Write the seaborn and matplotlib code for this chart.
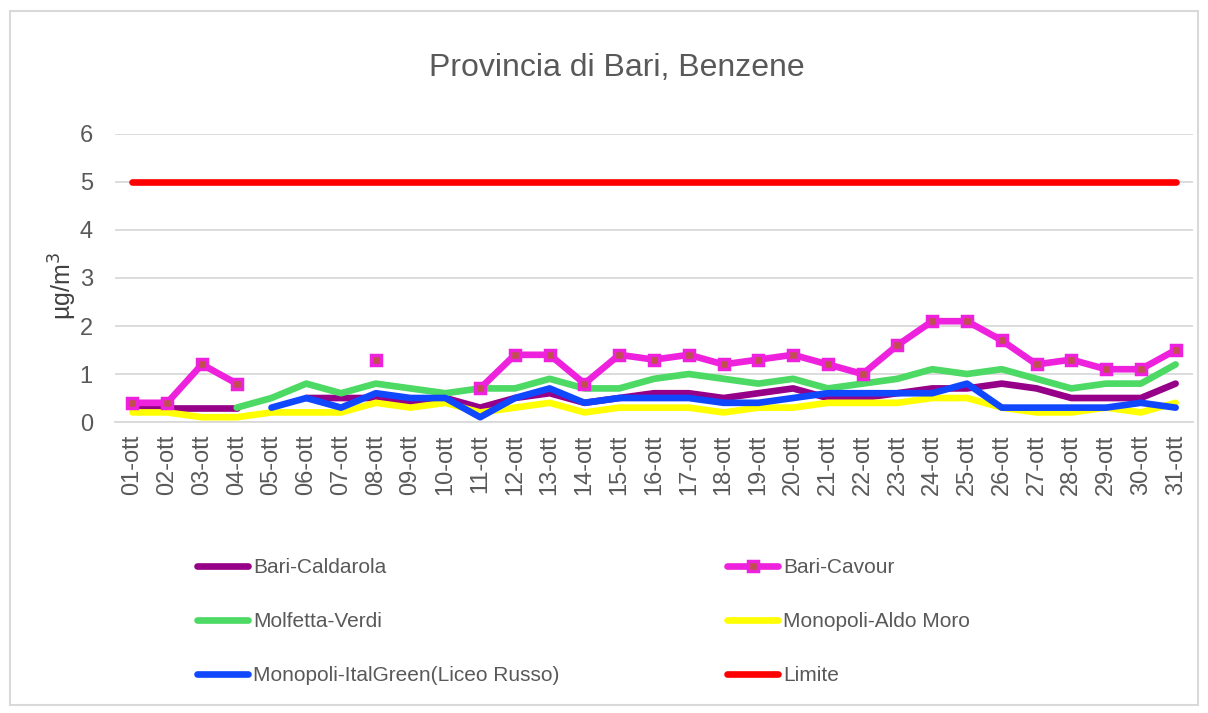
import numpy as np
import pandas as pd
import seaborn as sns
import matplotlib.pyplot as plt
from matplotlib.lines import Line2D
from matplotlib.patches import Rectangle

nan = np.nan
days = [f"{d:02d}-ott" for d in range(1, 32)]

caldarola = [0.3, 0.3, 0.3, 0.3, nan, 0.5, 0.5, 0.5, 0.4, 0.5, 0.3, 0.5, 0.6, 0.4, 0.5, 0.6,
             0.6, 0.5, 0.6, 0.7, 0.5, 0.5, 0.6, 0.7, 0.7, 0.8, 0.7, 0.5, 0.5, 0.5, 0.8]
cavour = [0.4, 0.4, 1.2, 0.8, nan, nan, nan, 1.3, nan, nan, 0.7, 1.4, 1.4, 0.8, 1.4, 1.3,
          1.4, 1.2, 1.3, 1.4, 1.2, 1.0, 1.6, 2.1, 2.1, 1.7, 1.2, 1.3, 1.1, 1.1, 1.5]
molfetta = [nan, nan, nan, 0.3, 0.5, 0.8, 0.6, 0.8, 0.7, 0.6, 0.7, 0.7, 0.9, 0.7, 0.7, 0.9,
            1.0, 0.9, 0.8, 0.9, 0.7, 0.8, 0.9, 1.1, 1.0, 1.1, 0.9, 0.7, 0.8, 0.8, 1.2]
aldo_moro = [0.2, 0.2, 0.1, 0.1, 0.2, 0.2, 0.2, 0.4, 0.3, 0.4, 0.2, 0.3, 0.4, 0.2, 0.3, 0.3,
             0.3, 0.2, 0.3, 0.3, 0.4, 0.4, 0.4, 0.5, 0.5, 0.3, 0.2, 0.2, 0.3, 0.2, 0.4]
italgreen = [nan, nan, nan, nan, 0.3, 0.5, 0.3, 0.6, 0.5, 0.5, 0.1, 0.5, 0.7, 0.4, 0.5, 0.5,
             0.5, 0.4, 0.4, 0.5, 0.6, 0.6, 0.6, 0.6, 0.8, 0.3, 0.3, 0.3, 0.3, 0.4, 0.3]
limite = [5] * 31

series = {
    "Bari-Caldarola": caldarola,
    "Molfetta-Verdi": molfetta,
    "Monopoli-Aldo Moro": aldo_moro,
    "Monopoli-ItalGreen(Liceo Russo)": italgreen,
    "Bari-Cavour": cavour,
    "Limite": limite,
}
colors = {
    "Bari-Caldarola": "#960088",
    "Bari-Cavour": "#EE22DD",
    "Molfetta-Verdi": "#4CD964",
    "Monopoli-Aldo Moro": "#FFFF00",
    "Monopoli-ItalGreen(Liceo Russo)": "#1048FF",
    "Limite": "#FF0000",
}

# long table, one segment id per unbroken run so gaps stay open
rows = []
for name, vals in series.items():
    seg = 0
    for i, v in enumerate(vals):
        if np.isnan(v):
            seg += 1
            continue
        rows.append({"pos": i, "value": v, "station": name, "seg": f"{name}_{seg}"})
df = pd.DataFrame(rows)

sns.set_theme(style="white")
plt.rcParams['font.family'] = ['Liberation Sans', 'DejaVu Sans']
grey = "#595959"
lw = 4.8

fig = plt.figure(figsize=(12.08, 7.13), dpi=100)
ax = fig.add_axes([0.0952, 0.4081, 0.8924, 0.404])

ax.set_axisbelow(True)
ax.yaxis.grid(True, color="#D9D9D9", linewidth=1.3)

marker_kw = dict(marker="s", markersize=7, markerfacecolor="#C0504D",
                 markeredgecolor=colors["Bari-Cavour"], markeredgewidth=2.5)

for name in series:
    sub = df[df["station"] == name]
    if name == "Bari-Cavour":
        sns.lineplot(data=sub, x="pos", y="value", units="seg", estimator=None, ax=ax,
                     color=colors[name], linewidth=lw, legend=False, zorder=3, **marker_kw)
    else:
        sns.lineplot(data=sub, x="pos", y="value", units="seg", estimator=None, ax=ax,
                     color=colors[name], linewidth=lw, legend=False,
                     zorder=4 if name == "Limite" else 2)

ax.set_xlim(-0.5, 30.5)
ax.set_ylim(0, 6)
ax.set_yticks(range(7))
ax.set_yticklabels([str(v) for v in range(7)], fontsize=17, color=grey)
ax.set_xticks(range(31))
ax.set_xticklabels(days, rotation=90, fontsize=17, color=grey)
ax.set_xticks(np.arange(-0.5, 31, 1), minor=True)
ax.tick_params(axis="x", which="major", length=0, pad=9)
ax.tick_params(axis="x", which="minor", length=7, color="#D9D9D9", width=1.3, direction="out")
ax.tick_params(axis="y", length=0, pad=16)
ax.set_xlabel("")
ax.set_ylabel("")
for s in ["top", "right", "left"]:
    ax.spines[s].set_visible(False)
ax.spines["bottom"].set_color("#D9D9D9")
ax.spines["bottom"].set_linewidth(1.3)

fig.text(0.511, 0.905, "Provincia di Bari, Benzene", ha="center", va="center",
         fontsize=23, color=grey)
fig.text(63 / 1208, 1 - 286 / 713, "µg/m$^3$", rotation=90, ha="center", va="center",
         fontsize=18, color="#404040")

col1 = ["Bari-Caldarola", "Molfetta-Verdi", "Monopoli-ItalGreen(Liceo Russo)"]
col2 = ["Bari-Cavour", "Monopoli-Aldo Moro", "Limite"]


def make_handle(name):
    if name == "Bari-Cavour":
        return Line2D([], [], color=colors[name], linewidth=lw, **marker_kw)
    return Line2D([], [], color=colors[name], linewidth=lw)


for names, x0 in [(col1, 197), (col2, 727)]:
    leg = fig.legend([make_handle(n) for n in names], names, loc="upper left",
                     bbox_to_anchor=(x0 / 1208, 1 - 558 / 713), ncol=1, frameon=False,
                     fontsize=15, handlelength=2.45, handletextpad=0.25,
                     labelspacing=1.68, borderpad=0, borderaxespad=0, labelcolor=grey)

fig.add_artist(Rectangle((10 / 1208, 8 / 713), 1188 / 1208, 694 / 713,
                         transform=fig.transFigure, fill=False,
                         edgecolor="#D9D9D9", linewidth=1.5))

fig.savefig("out.png", dpi=100)
